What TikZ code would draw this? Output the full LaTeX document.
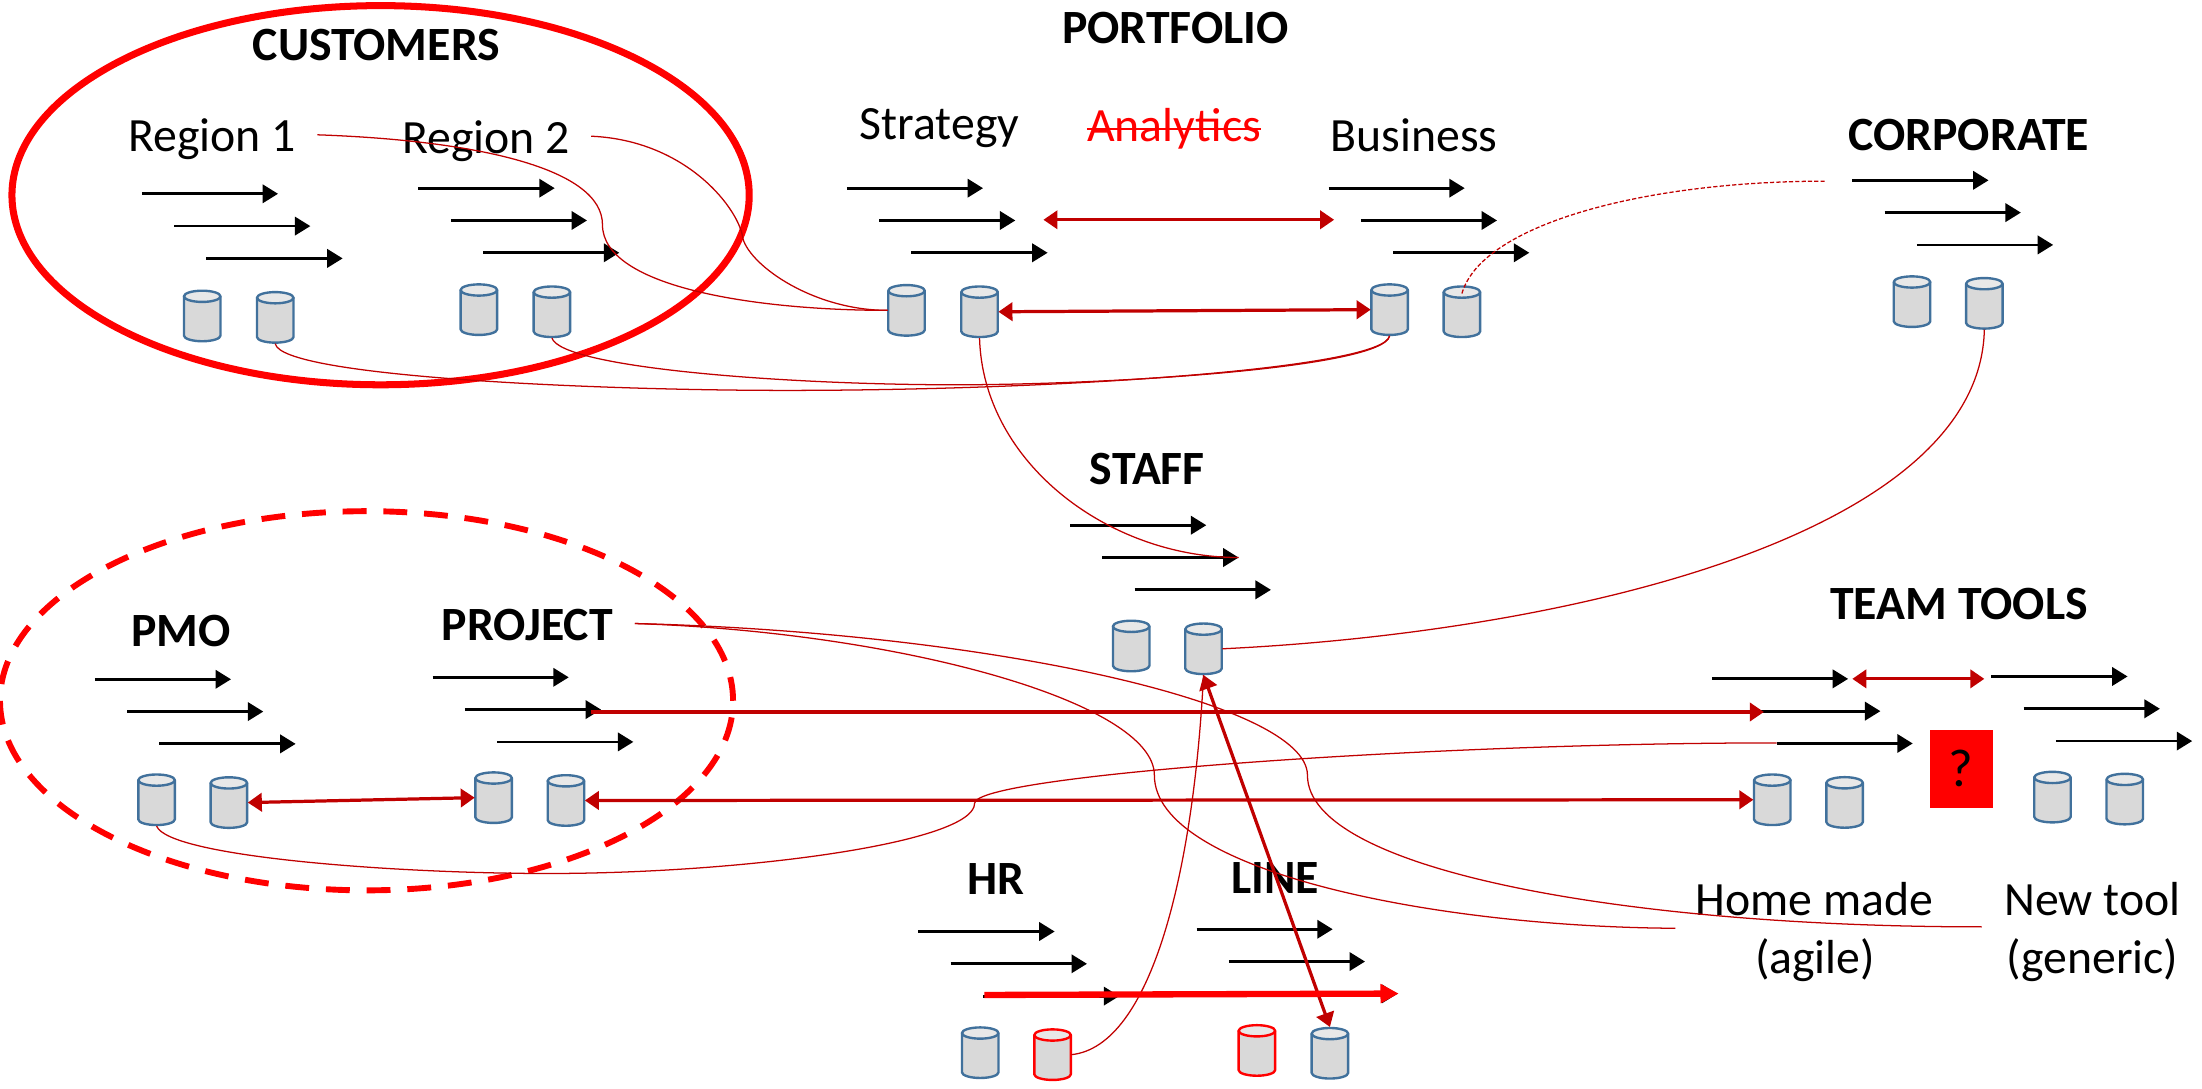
\documentclass[tikz,border=0pt]{standalone}
\usepackage{fontspec}
\setmainfont{Carlito}
\usetikzlibrary{arrows.meta,shapes.geometric}
\definecolor{dred}{HTML}{C00000}
\definecolor{cylblue}{HTML}{41719C}
\definecolor{cylgray}{HTML}{D9D9D9}
\definecolor{cyltop}{HTML}{E8E8E8}
\tikzset{
  lbl/.style={font=\fontsize{34}{34}\selectfont,inner sep=0pt,text=black},
  hdr/.style={lbl,font=\fontsize{34}{34}\selectfont\bfseries},
  cylbox/.style={rectangle,minimum width=26.5pt,minimum height=37pt,inner sep=0pt},
  cylline/.style={line width=1.7pt,line join=round},
  blk/.style={-{Triangle[length=11pt,width=13pt]},line width=2pt,black},
  dbl/.style={{Triangle[length=10pt,width=13pt]}-{Triangle[length=10pt,width=13pt]},line width=2.3pt,dred},
  sgl/.style={-{Triangle[length=10pt,width=13pt]},line width=2.3pt,dred},
  thin/.style={line width=0.9pt,dred},
}
\newcommand{\arrowset}[3]{%
  \coordinate (#1a) at (#2,#3);
  \coordinate (#1b) at (#2+23,#3+23);
  \coordinate (#1c) at (#2+46,#3+46);
  \draw[blk] (#1a) -- ++(97,0) coordinate (#1ae);
  \draw[blk] (#1b) -- ++(97,0) coordinate (#1be);
  \draw[blk] (#1c) -- ++(97,0) coordinate (#1ce);
}
% name, x, y, outline colour
\newcommand{\cylnode}[4]{%
  \node[cylbox] (#1) at (#2,#3) {};
  \filldraw[cylline,draw=#4,fill=cylgray] (#2-13,#3-14) -- (#2-13,#3+14)
    arc[start angle=180,end angle=0,x radius=13,y radius=4] -- (#2+13,#3-14) -- cycle;
  \filldraw[cylline,draw=#4,fill=cyltop] (#2,#3-14) ellipse[x radius=13,y radius=4];
}
\begin{document}
\begin{tikzpicture}[x=1pt,y=-1pt]
\useasboundingbox (0,0) rectangle (1568,775);
% enclosures
\node[draw=red,line width=5pt,ellipse,minimum width=525pt,minimum height=270pt,inner sep=0pt] (custring) at (271,139) {};
\node[draw=red,line width=4.2pt,ellipse,minimum width=522pt,minimum height=270pt,inner sep=0pt,dash pattern=on 17pt off 12pt] (pmoring) at (261,499) {};
% arrows
\arrowset{reg1}{101}{138}
\arrowset{reg2}{298}{134}
\arrowset{str}{603}{134}
\arrowset{bus}{946}{134}
\arrowset{cor}{1319}{128.4}
\arrowset{sta}{762}{374}
\arrowset{pmo}{67.5}{483.7}
\arrowset{pro}{308}{482.3}
\arrowset{hra}{654}{663.3}
\arrowset{lin}{852}{661.7}
\arrowset{tea}{1219}{483.4}
\arrowset{teb}{1418}{481.7}
% cylinders
\cylnode{r1x}{144}{225}{cylblue}
\cylnode{r1y}{196}{226}{cylblue}
\cylnode{r2x}{341}{220.5}{cylblue}
\cylnode{r2y}{393}{222}{cylblue}
\cylnode{stx}{645.5}{221}{cylblue}
\cylnode{sty}{697.5}{222}{cylblue}
\cylnode{bux}{989.5}{220.5}{cylblue}
\cylnode{buy}{1041}{222}{cylblue}
\cylnode{cox}{1361.5}{214.8}{cylblue}
\cylnode{coy}{1413}{216}{cylblue}
\cylnode{sfx}{805.5}{460}{cylblue}
\cylnode{sfy}{857}{462}{cylblue}
\cylnode{pmx}{111.5}{569.5}{cylblue}
\cylnode{pmy}{163}{571.5}{cylblue}
\cylnode{prx}{351.5}{568}{cylblue}
\cylnode{pry}{403}{570}{cylblue}
\cylnode{hrz}{749.5}{751}{red}
\cylnode{hrx}{698}{749.6}{cylblue}
\cylnode{lix}{895}{748}{red}
\cylnode{liy}{947}{750}{cylblue}
\cylnode{tax}{1262}{569.5}{cylblue}
\cylnode{tay}{1313.5}{571.4}{cylblue}
\cylnode{tbx}{1461.5}{567.6}{cylblue}
\cylnode{tby}{1513}{569}{cylblue}
% question box
\node[fill=red,minimum width=45pt,minimum height=56pt,inner sep=0pt,lbl,font=\fontsize{38}{38}\selectfont] (qbox) at (1396.5,547.5) {?};
% labels
\node[hdr] (tcus) at (268,32) {CUSTOMERS};
\node[hdr] (tpor) at (837,20) {PORTFOLIO};
\node[lbl] (treg1) at (151,99) {Region 1};
\node[lbl] (treg2) at (346,100.5) {Region 2};
\node[lbl] (tstr) at (669,91) {Strategy};
\node[lbl,text=red] (tana) at (836,92) {Analytics};
\draw[red,line width=1.5pt] (tana.west) -- (tana.east);
\node[lbl] (tbus) at (1007,96) {Business};
\node[hdr] (tcor) at (1402,96) {CORPORATE};
\node[hdr] (tsta) at (817,334) {STAFF};
\node[hdr] (tpmo) at (129,449) {PMO};
\node[hdr] (tpro) at (375.5,445) {PROJECT};
\node[hdr] (thr) at (709,626) {HR};
\node[hdr] (tlin) at (908,625) {LINE};
\node[hdr] (ttea) at (1395,430) {TEAM TOOLS};
\node[lbl] (thom) at (1292,640) {Home made};
\node[lbl] (tagi) at (1292.5,684) {(agile)};
\node[lbl] (tnew) at (1490,640) {New tool};
\node[lbl] (tgen) at (1490,684) {(generic)};
% free ends
\coordinate (c1) at (226,96);
\coordinate (c2) at (421,97);
\coordinate (c3) at (1300,129);
\coordinate (c4) at (452,444);
\coordinate (c5) at (1193,661);
\coordinate (c6) at (1411,660);
\coordinate (c7) at (1265,529);
\coordinate (c8) at (1041,209);
\coordinate (m1) at (743,156.5);
\coordinate (m2) at (950,156.5);
\coordinate (t1) at (1319,483.4);
\coordinate (t2) at (1413,483.4);
\coordinate (l1) at (421,507);
\coordinate (l2) at (1256,507);
\coordinate (w1) at (701,708.5);
\coordinate (w2) at (996,707.5);
% thin curves
\draw[thin] (c1) .. controls (340,100) and (429,120) .. (429,160) .. controls (429,205) and (540,221) .. (stx.west);
\draw[thin] (c2) .. controls (490,100) and (527,150) .. (529,170) .. controls (535,190) and (580,221) .. (stx.west);
\draw[thin] (r1y.south) .. controls (200,268) and (420,278) .. (560,278) .. controls (760,278) and (985,262) .. (bux.south);
\draw[thin] (r2y.south) .. controls (400,262) and (560,274) .. (680,274) .. controls (790,274) and (985,262) .. (bux.south);
\draw[thin] (sty.south) .. controls (700,330) and (790,397) .. (stabe);
\draw[thin,dash pattern=on 3pt off 1.5pt] (c8) .. controls (1055,160) and (1170,129) .. (c3);
\draw[thin] (sfy.east) .. controls (1120,450) and (1410,380) .. (coy.south);
\draw[thin] (c4) .. controls (640,450) and (822,500) .. (822,552) .. controls (822,620) and (1020,660) .. (c5);
\draw[thin] (c4) .. controls (700,450) and (931,500) .. (931,552) .. controls (931,620) and (1160,660) .. (c6);
\draw[thin] (pmx.south) .. controls (120,610) and (280,622) .. (390,622) .. controls (530,622) and (694,600) .. (694,572) .. controls (694,552) and (1020,529) .. (c7);
\draw[thin] (hrz.east) .. controls (820,745) and (850,620) .. (sfy.south);
% red arrows
\draw[dbl] (m1) -- (m2);
\draw[dbl] (sty.east) -- (bux.west);
\draw[dbl] (pmy.east) -- (prx.west);
\draw[dbl] (pry.east) -- (tax.west);
\draw[dbl] (t1) -- (t2);
\draw[sgl] (l1) -- (l2);
\draw[dbl] (sfy.south) -- (liy.north);
\draw[-{Triangle[length=13pt,width=13pt]},line width=4.5pt,red] (w1) -- (w2);
\end{tikzpicture}
\end{document}
